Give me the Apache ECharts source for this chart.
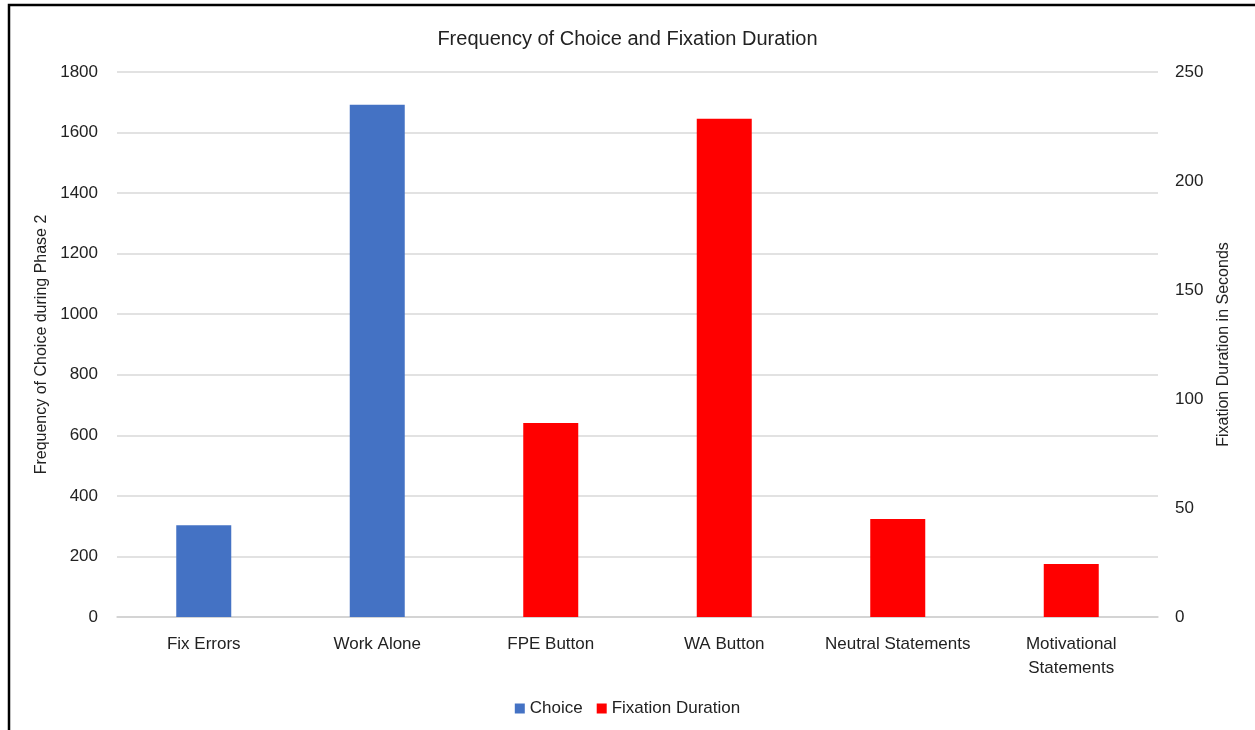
<!DOCTYPE html>
<html>
<head>
<meta charset="utf-8">
<script src="https://cdn.jsdelivr.net/npm/echarts@6/dist/echarts.min.js"></script>
<style>
  html, body { margin: 0; padding: 0; background: #fff; }
  #chart { width: 1255px; height: 730px; }
</style>
</head>
<body>
<div id="chart"></div>
<script>
// Categories along the x axis
const categories = ['Fix Errors', 'Work Alone', 'FPE Button', 'WA Button', 'Neutral Statements', 'Motivational\nStatements'];
// Frequency of choice (left axis); only the first two categories carry a value
const choiceValues = [303, 1692, null, null, null, null];
// Fixation duration in seconds (right axis)
const fixationValues = [null, null, 89, 228.5, 45, 24.3];
// Axis ranges and tick spacing
const leftAxis = { min: 0, max: 1800, interval: 200 };
const rightAxis = { min: 0, max: 250, interval: 50 };

const FONT = 'Liberation Sans Narrow, Arial Narrow, sans-serif';
const plain = v => String(v);
const chart = echarts.init(document.getElementById('chart'));

chart.setOption({
  backgroundColor: '#fff',
  animation: false,
  title: {
    text: 'Frequency of Choice and Fixation Duration',
    left: 'center',
    top: 24,
    textStyle: { fontFamily: FONT, fontSize: 20, fontWeight: 'normal', color: '#222' }
  },
  legend: {
    bottom: 8,
    left: 'center',
    itemWidth: 10,
    itemHeight: 10,
    itemGap: 14,
    icon: 'rect',
    textStyle: { fontFamily: FONT, fontSize: 17, color: '#222' },
    data: ['Choice', 'Fixation Duration']
  },
  grid: { left: 117, right: 97, top: 72, bottom: 113, containLabel: false },
  xAxis: {
    type: 'category',
    data: categories,
    axisTick: { show: false },
    axisLine: { lineStyle: { color: '#d0d0d0', width: 1.5 } },
    axisLabel: { fontFamily: FONT, fontSize: 17, color: '#222', margin: 15, lineHeight: 24, interval: 0 }
  },
  yAxis: [
    {
      type: 'value',
      min: leftAxis.min, max: leftAxis.max, interval: leftAxis.interval,
      name: 'Frequency of Choice during Phase 2',
      nameLocation: 'middle',
      nameGap: 60,
      nameTextStyle: { fontFamily: FONT, fontSize: 16, color: '#222' },
      axisLine: { show: false },
      axisTick: { show: false },
      axisLabel: { fontFamily: FONT, fontSize: 17, color: '#222', margin: 19, formatter: plain },
      splitLine: { lineStyle: { color: '#d9d9d9', width: 1.5 } }
    },
    {
      type: 'value',
      position: 'right',
      min: rightAxis.min, max: rightAxis.max, interval: rightAxis.interval,
      name: 'Fixation Duration in Seconds',
      nameLocation: 'middle',
      nameGap: 58,
      nameRotate: 90,
      nameTextStyle: { fontFamily: FONT, fontSize: 16, color: '#222' },
      axisLine: { show: false },
      axisTick: { show: false },
      axisLabel: { fontFamily: FONT, fontSize: 17, color: '#222', margin: 17, formatter: plain },
      splitLine: { show: false }
    }
  ],
  series: [
    {
      name: 'Choice',
      type: 'bar',
      yAxisIndex: 0,
      data: choiceValues,
      barWidth: 55,
      barGap: '-100%',
      itemStyle: { color: '#4472C4' }
    },
    {
      name: 'Fixation Duration',
      type: 'bar',
      yAxisIndex: 1,
      data: fixationValues,
      barWidth: 55,
      itemStyle: { color: '#FF0000' }
    }
  ],
  graphic: [
    {
      type: 'rect',
      shape: { x: 9, y: 5, width: 1260, height: 740 },
      style: { fill: 'none', stroke: '#000', lineWidth: 2.5 },
      silent: true
    }
  ]
});
</script>
</body>
</html>
